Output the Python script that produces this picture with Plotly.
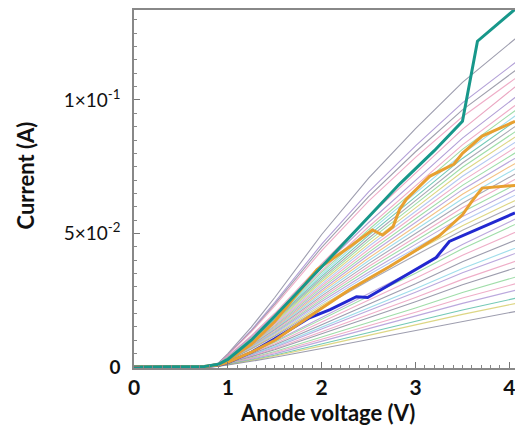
import plotly.graph_objects as go

# Anode voltage grid (V) for the thin curves
V_GRID = [0, 0.6, 0.75, 0.9, 1.0, 1.25, 1.5, 2.0, 2.5, 3.0, 3.5, 4.1]

# Thin curves: current in mA at V_GRID
THIN_CURVES_MA = [
    [0, 0, 0.2, 1.5, 5.0, 14.9, 26.0, 49.6, 70.7, 89.3, 106.6, 124],
    [0, 0, 0.2, 1.4, 4.6, 13.8, 24.2, 46.0, 65.6, 82.8, 98.9, 115],
    [0, 0, 0.2, 1.3, 4.5, 13.4, 23.5, 44.8, 63.8, 80.6, 96.3, 112],
    [0, 0, 0.2, 1.3, 4.4, 13.1, 22.9, 43.6, 62.1, 78.5, 93.7, 109],
    [0, 0, 0.2, 1.3, 3.9, 11.7, 20.1, 38.7, 56.2, 72.6, 89.0, 106],
    [0, 0, 0.2, 1.2, 3.8, 11.2, 19.4, 37.2, 54.1, 69.9, 85.7, 102],
    [0, 0, 0.2, 1.2, 3.7, 10.9, 18.8, 36.1, 52.5, 67.8, 83.2, 99],
    [0, 0, 0.2, 1.2, 3.6, 10.7, 18.4, 35.4, 51.4, 66.4, 81.5, 97],
    [0, 0, 0.2, 1.1, 3.5, 10.5, 18.1, 34.7, 50.4, 65.1, 79.8, 95],
    [0, 0, 0.2, 1.1, 3.4, 10.2, 17.7, 33.9, 49.3, 63.7, 78.1, 93],
    [0, 0, 0.2, 1.1, 3.4, 10.0, 17.3, 33.2, 48.2, 62.3, 76.4, 91],
    [0, 0, 0.2, 1.1, 3.3, 9.8, 16.9, 32.5, 47.2, 61.0, 74.8, 89],
    [0, 0, 0.2, 1.0, 3.2, 9.6, 16.5, 31.8, 46.1, 59.6, 73.1, 87],
    [0, 0, 0.2, 1.0, 3.1, 9.4, 16.2, 31.0, 45.1, 58.2, 71.4, 85],
    [0, 0, 0.2, 1.0, 3.1, 9.1, 15.8, 30.3, 44.0, 56.9, 69.7, 83],
    [0, 0, 0.2, 1.0, 3.0, 8.9, 15.4, 29.6, 42.9, 55.5, 68.0, 81],
    [0, 0, 0.2, 0.9, 2.9, 8.7, 15.0, 28.8, 41.9, 54.1, 66.4, 79],
    [0, 0, 0.2, 0.9, 2.8, 8.5, 14.6, 28.1, 40.8, 52.7, 64.7, 77],
    [0, 0, 0.2, 0.9, 2.8, 8.3, 14.3, 27.4, 39.8, 51.4, 63.0, 75],
    [0, 0, 0.1, 0.9, 2.7, 8.0, 13.9, 26.6, 38.7, 50.0, 61.3, 73],
    [0, 0, 0.1, 0.9, 2.6, 7.8, 13.5, 25.9, 37.6, 48.6, 59.6, 71],
    [0, 0, 0.1, 0.8, 2.6, 7.6, 13.1, 25.2, 36.6, 47.3, 58.0, 69],
    [0, 0, 0.1, 0.8, 2.5, 7.4, 12.7, 24.5, 35.5, 45.9, 56.3, 67],
    [0, 0, 0.1, 0.8, 2.4, 7.2, 12.4, 23.7, 34.5, 44.5, 54.6, 65],
    [0, 0, 0.1, 0.8, 2.3, 6.9, 12.0, 23.0, 33.4, 43.2, 52.9, 63],
    [0, 0, 0.1, 0.7, 2.3, 6.7, 11.6, 22.3, 32.3, 41.8, 51.2, 61],
    [0, 0, 0.1, 0.7, 2.0, 5.6, 9.5, 18.5, 27.4, 36.4, 45.9, 56],
    [0, 0, 0.1, 0.6, 1.9, 5.4, 9.2, 17.8, 26.5, 35.1, 44.3, 54],
    [0, 0, 0.1, 0.6, 1.8, 5.1, 8.7, 16.8, 25.0, 33.2, 41.8, 51],
    [0, 0, 0.1, 0.6, 1.7, 4.8, 8.2, 15.8, 23.5, 31.2, 39.4, 48],
    [0, 0, 0.1, 0.5, 1.6, 4.5, 7.7, 14.9, 22.1, 29.3, 36.9, 45],
    [0, 0, 0.1, 0.5, 1.5, 4.3, 7.3, 14.2, 21.1, 28.0, 35.3, 43],
    [0, 0, 0.1, 0.5, 1.4, 4.0, 6.8, 13.2, 19.6, 26.0, 32.8, 40],
    [0, 0, 0.1, 0.5, 1.3, 3.8, 6.4, 12.4, 18.4, 24.4, 30.8, 37.5],
    [0, 0, 0.1, 0.4, 1.2, 3.4, 5.8, 11.2, 16.7, 22.1, 27.9, 34],
    [0, 0, 0.1, 0.4, 1.1, 3.2, 5.4, 10.4, 15.4, 20.5, 25.8, 31.5],
    [0, 0, 0.1, 0.3, 1.0, 2.9, 4.9, 9.6, 14.2, 18.9, 23.8, 29],
    [0, 0, 0.1, 0.3, 0.9, 2.6, 4.4, 8.6, 12.7, 16.9, 21.3, 26],
    [0, 0, 0.0, 0.3, 0.8, 2.4, 4.1, 7.9, 11.8, 15.6, 19.7, 24],
    [0, 0, 0.0, 0.3, 0.7, 2.1, 3.6, 6.9, 10.3, 13.7, 17.2, 21],
]

THIN_COLORS = [
    "#8c8ca0", "#a58fd0", "#9090a0", "#eda0bf", "#e898b8", "#a58fd0", "#eda0bf",
    "#8fd89a", "#8fd8e8", "#5cc0aa", "#9a9aa8", "#8fd89a", "#d8d070", "#a8c0f0",
    "#eda0bf", "#8fd89a", "#b09ad8", "#f2b870", "#8fd8e8", "#9a9aa8", "#eda0bf",
    "#8fd89a", "#b09ad8", "#a8c0f0", "#d8d070", "#9a9aa8", "#b09ad8", "#8fd89a",
    "#eda0bf", "#8c8ca0", "#8fd8e8", "#b09ad8", "#eda0bf", "#8c8ca0", "#8fd89a",
    "#eda0bf", "#b09ad8", "#5cc0aa", "#d8d070", "#8c8ca0",
]

# Highlighted thick curves (V, mA)
TEAL_V = [0, 0.6, 0.75, 0.9, 1.0, 1.25, 1.5, 2.0, 2.5, 2.83, 3.2, 3.5, 3.66, 4.06]
TEAL_I = [0, 0, 0.2, 1.0, 2.8, 10, 19, 37.5, 56, 68.5, 81, 92, 122, 134]

ORANGE1_V = [0, 0.6, 0.75, 0.9, 1.0, 1.25, 1.5, 1.95, 2.3, 2.54, 2.65, 2.76, 2.83, 2.9,
             3.15, 3.41, 3.5, 3.71, 4.06]
ORANGE1_I = [0, 0, 0.2, 0.9, 2.5, 8.5, 17, 36.5, 45, 51.3, 49.4, 52.5, 59, 62.7,
             71.4, 76, 80, 86.5, 92]

ORANGE2_V = [0, 0.6, 0.75, 0.9, 1.0, 1.25, 1.5, 2.0, 2.3, 2.72, 3.25, 3.5, 3.6, 3.71, 4.06]
ORANGE2_I = [0, 0, 0.1, 0.7, 1.7, 5.5, 10, 22, 29, 37.5, 49, 57, 62, 67, 68]

BLUE_V = [0, 0.6, 0.75, 0.9, 1.0, 1.25, 1.5, 1.87, 2.09, 2.37, 2.49, 3.22, 3.31, 3.36, 4.06]
BLUE_I = [0, 0, 0.1, 0.6, 1.6, 5.5, 10.5, 18.4, 21.5, 26.3, 26.0, 41, 45, 47, 57.7]

X_TICKS = [0, 1, 2, 3, 4]
Y_TICKS = [0, 0.05, 0.1]
Y_TICK_TEXT = ["<b>0</b>", "5×10<sup>-2</sup>", "1×10<sup>-1</sup>"]
X_TITLE = "Anode voltage (V)"
Y_TITLE = "Current (A)"

fig = go.Figure()

for vals, col in zip(THIN_CURVES_MA, THIN_COLORS):
    fig.add_trace(go.Scatter(
        x=V_GRID, y=[v / 1000 for v in vals], mode="lines",
        line=dict(color=col, width=1.1), opacity=0.85, showlegend=False,
        hoverinfo="skip"))

for vx, vi, col in [
    (BLUE_V, BLUE_I, "#2228d0"),
    (ORANGE2_V, ORANGE2_I, "#e8a030"),
    (ORANGE1_V, ORANGE1_I, "#e8a030"),
    (TEAL_V, TEAL_I, "#17978a"),
]:
    fig.add_trace(go.Scatter(
        x=vx, y=[v / 1000 for v in vi], mode="lines",
        line=dict(color=col, width=3), showlegend=False, hoverinfo="skip"))

FONT = "Lato, Open Sans, sans-serif"

fig.update_layout(
    width=515, height=432,
    margin=dict(l=134, r=0, t=10, b=64),
    paper_bgcolor="white", plot_bgcolor="white",
    font=dict(family=FONT, color="#111"),
    xaxis=dict(
        range=[0, 4.06], tickvals=X_TICKS, ticktext=[str(t) for t in X_TICKS],
        automargin=False, ticklabeloverflow="allow",
        showgrid=False, zeroline=False, showline=True, linecolor="#888",
        linewidth=1.5, mirror=True,
        ticks="inside", ticklen=6, tickcolor="#777",
        minor=dict(ticks="inside", dtick=0.1, ticklen=3, tickcolor="#888"),
        tickfont=dict(size=21, family=FONT, weight="bold", color="#111"),
    ),
    yaxis=dict(
        range=[-0.0004, 0.1337], tickvals=Y_TICKS, ticktext=Y_TICK_TEXT,
        automargin=False, ticklabeloverflow="allow",
        showgrid=False, zeroline=False, showline=True, linecolor="#888",
        linewidth=1.5,
        ticks="inside", ticklen=6, tickcolor="#777",
        minor=dict(ticks="inside", dtick=0.005, ticklen=3, tickcolor="#888"),
        tickfont=dict(size=19, family=FONT, color="#111"),
        ticklabelstandoff=8,
    ),
    annotations=[
        dict(text=X_TITLE, xref="paper", yref="paper", x=0.507, y=-0.123,
             xanchor="center", yanchor="middle", showarrow=False,
             font=dict(size=22, family=FONT, weight="bold", color="#111")),
        dict(text=Y_TITLE, xref="paper", yref="paper", x=-0.285, y=0.539,
             xanchor="center", yanchor="middle", showarrow=False, textangle=-90,
             font=dict(size=22, family=FONT, weight="bold", color="#111")),
    ],
)

fig.write_html(
    "out.html",
    config={"displayModeBar": False},
    post_script="document.body.style.margin='0';document.body.style.overflow='hidden';",
)
